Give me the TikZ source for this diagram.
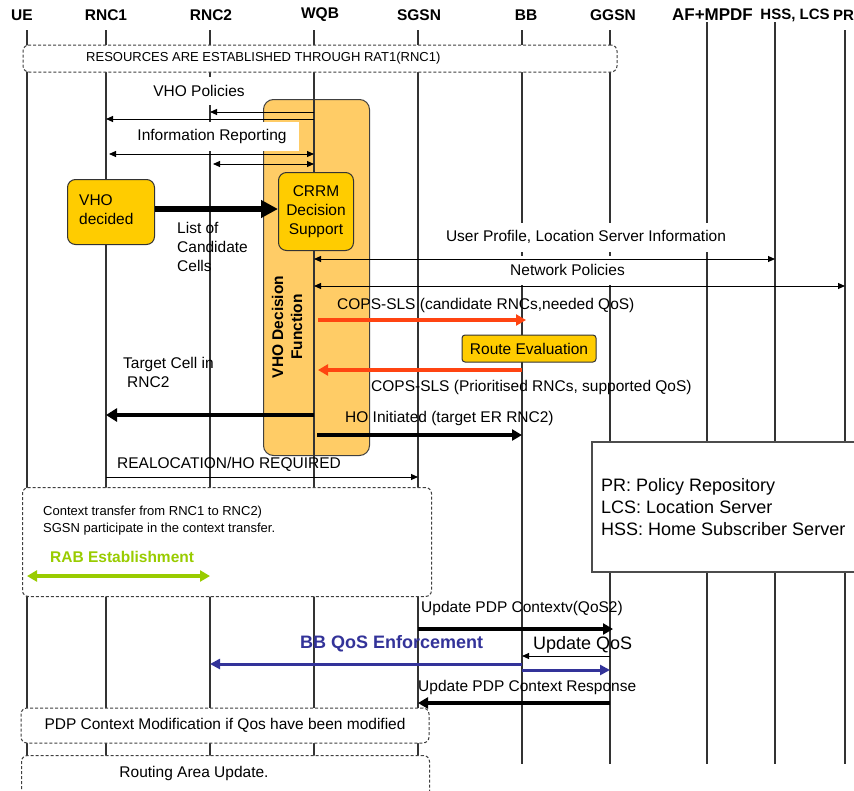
\documentclass[tikz,border=0pt]{standalone}
\usepackage{fontspec}
\setmainfont{Liberation Sans}
\usetikzlibrary{arrows.meta}
\definecolor{gold}{HTML}{FFCC00}
\definecolor{orangebox}{HTML}{FFCC66}
\definecolor{redarrow}{HTML}{FF4411}
\definecolor{bluearrow}{HTML}{333399}
\definecolor{greenarrow}{HTML}{99CC00}
\definecolor{lifegray}{HTML}{333333}
\tikzset{
  lbl/.style={font=\fontsize{15.5}{19}\selectfont, inner sep=0pt},
  smalllbl/.style={font=\fontsize{13}{17}\selectfont, inner sep=0pt},
  biglbl/.style={font=\fontsize{18}{22}\selectfont, inner sep=0pt},
  hdr/.style={font=\fontsize{15.5}{18}\selectfont\bfseries, inner sep=0pt},
  life/.style={line width=1.1pt, draw=lifegray},
  whitebg/.style={fill=white, inner sep=0pt},
  msg/.style={line width=1pt, -{Triangle[length=7pt,width=6pt]}},
  dmsg/.style={line width=1pt, {Triangle[length=7pt,width=6pt]}-{Triangle[length=7pt,width=6pt]}},
  thickmsg/.style={line width=3.5pt, -{Triangle[length=10pt,width=11pt]}},
  redmsg/.style={thickmsg, draw=redarrow, fill=redarrow},
  bluemsg/.style={line width=3pt, draw=bluearrow, fill=bluearrow, -{Triangle[length=10pt,width=10pt]}},
  greenmsg/.style={line width=3.5pt, draw=greenarrow, fill=greenarrow, {Triangle[length=10pt,width=11pt]}-{Triangle[length=10pt,width=11pt]}},
  dashbox/.style={draw=black!75, dash pattern=on 3pt off 2pt, rounded corners=6pt, fill=white, line width=1pt, inner sep=0pt},
  goldbox/.style={draw=black!80, fill=gold, rounded corners=8pt, line width=1pt, inner sep=0pt},
}
\begin{document}
\begin{tikzpicture}[x=1pt,y=-1pt]
\useasboundingbox (0,0) rectangle (854,790);
\fill[white] (0,0) rectangle (854,790);

% lifeline anchors
\coordinate (UE) at (27,30);
\coordinate (RNC1) at (106,30);
\coordinate (RNC2) at (210,30);
\coordinate (WQB) at (314,30);
\coordinate (SGSN) at (418,30);
\coordinate (BB) at (522,30);
\coordinate (GGSN) at (610,30);
\coordinate (AF) at (707,22);
\coordinate (HSS) at (775,22);
\coordinate (PR) at (845,30);

% headers
\node[hdr] (hUE) at (22,15) {UE};
\node[hdr] (hRNC1) at (106,15) {RNC1};
\node[hdr] (hRNC2) at (211,15) {RNC2};
\node[hdr] (hWQB) at (320,15) {WQB};
\node[hdr] (hSGSN) at (419,15) {SGSN};
\node[hdr] (hBB) at (526,15) {BB};
\node[hdr] (hGGSN) at (613,15) {GGSN};
\node[hdr, font=\fontsize{17}{20}\selectfont\bfseries] (hAF) at (712.5,15) {AF+MPDF};
\node[hdr, font=\fontsize{15}{18}\selectfont\bfseries] (hHSS) at (795,15) {HSS, LCS};
\node[hdr, font=\fontsize{15}{18}\selectfont\bfseries, anchor=west] (hPR) at (833,15) {PR};

% WQB orange box
\node[draw=black!75, fill=orangebox, rounded corners=10pt, line width=1pt, inner sep=0pt,
      minimum width=106pt, minimum height=356pt, anchor=north west] (vhobox) at (263,99) {};

% lifelines
\foreach \n in {UE,RNC1,RNC2,WQB,SGSN} {\draw[life] (\n) -- (\n |- 0,790);}
\foreach \n in {BB,GGSN,AF,HSS,PR} {\draw[life] (\n) -- (\n |- 0,764);}

% top dashed box
\node[dashbox, minimum width=594pt, minimum height=27pt] (res) at (320,58.5) {};
\node[smalllbl, anchor=west] (restext) at (86,58) {RESOURCES ARE ESTABLISHED THROUGH RAT1(RNC1)};

% white label boxes
\node[lbl, whitebg, minimum width=118pt, minimum height=28pt] (vhopol) at (199,91) {VHO Policies};
\node[lbl, whitebg, minimum width=174pt, minimum height=29pt] (inforep) at (212,136.5) {Information Reporting};
\node[lbl, whitebg, minimum width=308pt, minimum height=29pt] (userprof) at (586,237) {User Profile, Location Server Information};
\node[lbl, whitebg, minimum width=135pt, minimum height=29pt] (netpol) at (567.5,270) {Network Policies};

% VHO policies / information reporting arrows
\draw[msg] (WQB |- 0,112) -- (RNC2 |- 0,112);
\draw[msg] (WQB |- 0,119) -- (RNC1 |- 0,119);
\draw[dmsg, shorten <=3pt] (RNC1 |- 0,154) -- (WQB |- 0,154);
\draw[dmsg, shorten <=3pt] (RNC2 |- 0,164) -- (WQB |- 0,164);

% gold boxes
\node[goldbox, minimum width=87pt, minimum height=65pt, anchor=north west] (vhodec) at (67,179) {};
\node[lbl, align=left, anchor=west] (vhodectext) at (79,210) {VHO\\decided};
\node[goldbox, minimum width=75pt, minimum height=78pt, anchor=north west, align=center,
      font=\fontsize{15.5}{19}\selectfont] (crrm) at (278,172) {CRRM\\Decision\\Support};
\draw[line width=5.5pt, -{Triangle[length=17pt,width=17pt]}] (vhodec.east |- 0,209) -- (crrm.west |- 0,209);
\node[lbl, align=left, anchor=west] (cand) at (177,247) {List of\\Candidate\\Cells};

% VHO decision function text
\node[font=\fontsize{15.5}{19}\selectfont\bfseries, rotate=90, align=center, inner sep=0pt] (vhofun) at (287,327) {VHO Decision\\Function};

% user profile / network policies arrows
\draw[dmsg] (WQB |- 0,259) -- (HSS |- 0,259);
\draw[dmsg] (WQB |- 0,286) -- (PR |- 0,286);

% COPS-SLS
\node[lbl, anchor=west] (cops1) at (337,305) {COPS-SLS (candidate RNCs,needed QoS)};
\draw[redmsg, shorten <=4pt, shorten >=-4pt] (WQB |- 0,320) -- (BB |- 0,320);
\node[goldbox, rounded corners=3pt, minimum width=134pt, minimum height=27pt, font=\fontsize{15.5}{19}\selectfont] (route) at (529,348.5) {Route Evaluation};
\draw[redmsg, shorten >=4pt] (BB |- 0,370) -- (WQB |- 0,370);
\node[lbl, anchor=west] (cops2) at (371,387) {COPS-SLS (Prioritised RNCs, supported QoS)};

% target cell
\node[lbl, align=left, anchor=west] (target) at (123,372.5) {Target Cell in\\\hspace*{4pt}RNC2};
\draw[line width=4.5pt, -{Triangle[length=11pt,width=13pt]}] (WQB |- 0,415) -- (RNC1 |- 0,415);
\node[lbl, anchor=west] (hoinit) at (345,418) {HO Initiated (target ER RNC2)};
\draw[thickmsg, shorten <=3pt] (WQB |- 0,435) -- (BB |- 0,435);

% realocation
\node[lbl, anchor=west] (realoc) at (117,464) {REALOCATION/HO REQUIRED};
\draw[msg] (RNC1 |- 0,477) -- (SGSN |- 0,477);

% legend
\node[draw=black!70, line width=1.5pt, fill=white, inner sep=0pt, minimum width=280pt, minimum height=130pt, anchor=north west] (legend) at (591,441) {};
\node[biglbl, align=left, anchor=west] (legendtext) at (601,507) {PR: Policy Repository\\LCS: Location Server\\HSS: Home Subscriber Server};

% context transfer box
\node[dashbox, minimum width=409pt, minimum height=109pt, anchor=north west] (ctx) at (22,487) {};
\node[smalllbl, align=left, anchor=west] (ctxtext) at (43,520.5) {Context transfer from RNC1 to RNC2)\\SGSN participate in the context transfer.};
\node[font=\fontsize{15.5}{19}\selectfont\bfseries, text=greenarrow, inner sep=0pt, anchor=west] (rab) at (50,557) {RAB Establishment};
\draw[greenmsg] (UE |- 0,576) -- (RNC2 |- 0,576);

% update PDP
\node[lbl, anchor=west] (updpdp) at (421,608) {Update PDP Contextv(QoS2)};
\draw[thickmsg, shorten >=-3pt] (SGSN |- 0,629) -- (GGSN |- 0,629);
\node[font=\fontsize{18}{22}\selectfont\bfseries, text=bluearrow, inner sep=0pt, anchor=west] (bbqos) at (300,644) {BB QoS Enforcement};
\node[biglbl, anchor=west] (updqos) at (533,645) {Update QoS};
\draw[msg] (GGSN |- 0,656) -- (BB |- 0,656);
\draw[bluemsg] (BB |- 0,664) -- (RNC2 |- 0,664);
\draw[bluemsg] (BB |- 0,670) -- (GGSN |- 0,670);
\node[lbl, anchor=west] (updresp) at (418,687) {Update PDP Context Response};
\draw[thickmsg] (GGSN |- 0,703) -- (SGSN |- 0,703);

% bottom boxes
\node[dashbox, minimum width=408pt, minimum height=35pt, font=\fontsize{15.5}{19}\selectfont] (pdpmod) at (225,725.5) {PDP Context Modification if Qos have been modified};
\node[dashbox, minimum width=408pt, minimum height=50pt, anchor=north west] (rau) at (21,755) {};
\node[lbl] (rautext) at (194,773) {Routing Area Update.};
\end{tikzpicture}
\end{document}
